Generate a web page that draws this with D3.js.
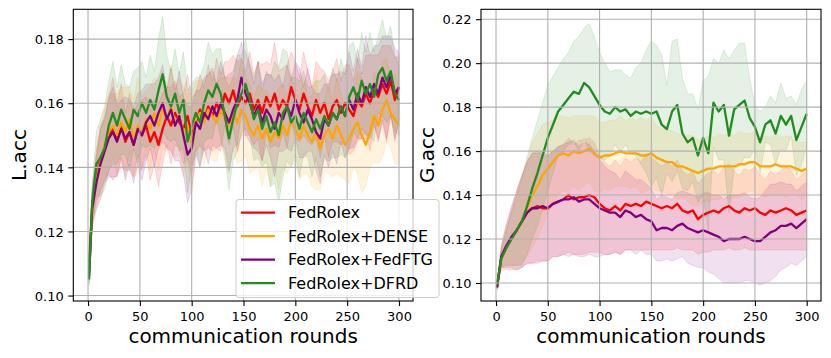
<!DOCTYPE html>
<html><head><meta charset="utf-8">
<script src="https://cdn.jsdelivr.net/npm/d3@7"></script>
<style>body{margin:0;background:#fff}svg{display:block;font-family:"DejaVu Sans",sans-serif}</style>
</head><body><svg id="c" width="831" height="358"></svg>
<script>
const seriesNames = ["FedRolex","FedRolex+DENSE","FedRolex+FedFTG","FedRolex+DFRD"];
const seriesColors = ["#ff0000","#ffa500","#800080","#228b22"];
const xTicks = [0,50,100,150,200,250,300];
const yTicksL = [0.10,0.12,0.14,0.16,0.18];
const yTicksG = [0.10,0.12,0.14,0.16,0.18,0.20,0.22];
const roundsL = [1].concat(d3.range(4, 301, 4));
const roundsG = [1].concat(d3.range(5, 301, 5));

// L.acc means
const lRed = [.110,.128,.137,.143,.146,.150,.152,.149,.153,.148,
.151,.147,.152,.150,.153,.148,.151,.147,.152,.156,
.153,.157,.154,.152,.156,.150,.154,.158,.155,.159,
.156,.160,.157,.163,.160,.164,.159,.162,.160,.163,
.158,.161,.157,.162,.159,.163,.158,.161,.159,.165,
.161,.158,.163,.159,.156,.161,.157,.160,.155,.159,
.161,.157,.160,.158,.156,.161,.159,.163,.160,.164,
.162,.166,.163,.167,.161,.165];
const lOrange = [.108,.126,.136,.142,.147,.151,.153,.150,.154,.151,
.155,.149,.153,.151,.155,.152,.157,.153,.158,.155,
.159,.154,.156,.151,.153,.147,.155,.157,.154,.158,
.156,.154,.158,.155,.153,.157,.154,.158,.156,.152,
.150,.153,.149,.152,.148,.151,.149,.153,.150,.155,
.152,.149,.153,.150,.148,.151,.146,.150,.152,.149,
.153,.150,.147,.149,.152,.154,.150,.147,.151,.156,
.153,.158,.161,.157,.155,.153];
const lPurple = [.106,.127,.135,.141,.145,.149,.151,.148,.152,.149,
.151,.147,.152,.150,.154,.156,.153,.157,.160,.155,
.158,.153,.156,.150,.144,.146,.154,.152,.157,.155,
.159,.156,.160,.157,.154,.158,.161,.168,.163,.160,
.156,.159,.154,.158,.156,.152,.157,.155,.159,.156,
.161,.157,.154,.158,.155,.151,.149,.155,.153,.157,
.155,.159,.156,.161,.158,.163,.160,.165,.162,.166,
.163,.168,.165,.169,.163,.165];
const lGreen = [.105,.129,.141,.143,.146,.153,.157,.153,.158,.155,
.152,.158,.156,.160,.157,.161,.158,.164,.169,.162,
.159,.163,.157,.161,.148,.153,.157,.154,.160,.164,
.162,.166,.163,.156,.149,.155,.160,.163,.166,.161,
.155,.158,.152,.156,.151,.154,.150,.157,.159,.154,
.156,.152,.157,.154,.151,.155,.152,.156,.153,.157,
.155,.159,.156,.162,.165,.161,.167,.163,.166,.162,
.169,.171,.167,.170,.163,.161];
// L.acc std
const lRedSd = [.002,.006,.008,.010,.010,.012,.016,.011,.013,.009,
.012,.010,.008,.011,.009,.012,.010,.013,.011,.009,
.012,.010,.008,.011,.013,.012,.009,.011,.010,.013,
.011,.014,.012,.010,.013,.011,.014,.012,.010,.013,
.011,.012,.015,.011,.013,.016,.012,.010,.013,.011,
.012,.010,.013,.011,.009,.012,.014,.010,.012,.011,
.013,.010,.012,.014,.011,.013,.010,.012,.015,.011,
.013,.012,.015,.011,.013,.010];
const lOrangeSd = [.002,.006,.009,.010,.011,.012,.010,.013,.011,.014,
.010,.012,.015,.011,.009,.013,.011,.014,.012,.010,
.013,.011,.012,.014,.010,.016,.012,.010,.013,.011,
.014,.012,.010,.013,.015,.011,.013,.016,.012,.014,
.011,.013,.015,.012,.014,.011,.016,.013,.012,.014,
.011,.013,.015,.012,.014,.018,.013,.011,.014,.012,
.015,.013,.011,.014,.012,.016,.018,.013,.011,.014,
.012,.015,.013,.011,.014,.012];
const lPurpleSd = [.002,.005,.008,.011,.010,.012,.014,.011,.009,.013,
.010,.012,.011,.014,.012,.010,.013,.011,.012,.009,
.013,.011,.014,.012,.015,.013,.010,.012,.011,.014,
.012,.010,.013,.011,.015,.012,.014,.011,.013,.012,
.010,.014,.012,.011,.013,.015,.012,.010,.013,.011,
.012,.014,.011,.013,.010,.012,.014,.011,.013,.012,
.014,.011,.013,.015,.012,.014,.011,.016,.013,.012,
.015,.013,.016,.012,.014,.011];
const lGreenSd = [.002,.006,.010,.012,.013,.014,.016,.012,.014,.011,
.013,.012,.015,.013,.011,.014,.012,.016,.018,.013,
.011,.014,.012,.015,.016,.013,.011,.014,.012,.015,
.013,.011,.014,.012,.016,.013,.015,.012,.014,.011,
.013,.015,.012,.014,.017,.019,.021,.020,.017,.014,
.012,.015,.013,.011,.014,.012,.015,.013,.011,.014,
.012,.015,.013,.016,.014,.012,.015,.013,.016,.014,
.012,.015,.013,.014,.012,.011];

// G.acc means
const gRed = [.098,.111,.116,.120,.124,.128,.132,.134,.135,.134,
.134,.136,.137,.138,.140,.138,.139,.139,.140,.139,
.136,.134,.133,.135,.133,.136,.135,.136,.135,.137,
.136,.135,.134,.135,.134,.136,.133,.132,.133,.129,
.131,.132,.133,.132,.134,.135,.133,.132,.134,.133,
.134,.132,.131,.133,.132,.133,.134,.133,.131,.132,.133];
const gOrange = [.099,.111,.116,.120,.124,.128,.134,.140,.144,.149,
.152,.155,.158,.159,.158,.160,.159,.160,.161,.159,
.157,.158,.158,.159,.160,.159,.159,.159,.158,.158,
.159,.157,.156,.155,.155,.153,.153,.152,.151,.150,
.151,.152,.152,.153,.153,.153,.153,.154,.154,.155,
.155,.153,.153,.153,.154,.153,.153,.153,.152,.151,.152];
const gPurple = [.098,.112,.117,.121,.124,.128,.132,.134,.134,.135,
.134,.136,.137,.138,.138,.139,.137,.138,.138,.136,
.134,.133,.132,.132,.130,.133,.132,.130,.131,.129,
.128,.124,.125,.125,.124,.126,.127,.125,.124,.123,
.124,.123,.122,.121,.119,.120,.120,.120,.121,.120,
.119,.119,.121,.123,.124,.126,.126,.127,.125,.127,.129];
const gGreen = [.099,.111,.116,.120,.124,.128,.135,.143,.150,.158,
.166,.172,.178,.181,.184,.187,.186,.191,.189,.185,
.181,.178,.177,.180,.178,.179,.176,.178,.177,.178,
.177,.178,.172,.170,.178,.181,.168,.164,.166,.158,
.166,.159,.182,.178,.181,.167,.179,.181,.183,.175,
.171,.164,.172,.174,.168,.176,.172,.176,.165,.171,.177];
// G.acc std
const gRedSd = [.001,.005,.010,.014,.018,.021,.023,.025,.025,.024,
.024,.024,.025,.025,.026,.025,.026,.026,.026,.025,
.022,.021,.020,.021,.020,.021,.020,.021,.020,.022,
.021,.020,.019,.020,.019,.020,.018,.017,.018,.016,
.017,.018,.018,.017,.019,.019,.018,.017,.018,.018,
.019,.017,.016,.018,.017,.018,.019,.018,.016,.017,.018];
const gOrangeSd = [.001,.004,.008,.012,.016,.019,.022,.024,.024,.023,
.021,.019,.018,.017,.017,.016,.017,.016,.015,.017,
.016,.015,.016,.015,.016,.015,.016,.015,.017,.016,
.016,.015,.014,.015,.014,.015,.014,.015,.016,.015,
.014,.015,.014,.015,.014,.015,.014,.015,.014,.013,
.014,.013,.014,.013,.014,.013,.014,.013,.012,.013,.012];
const gPurpleSd = [.001,.005,.010,.014,.018,.021,.023,.025,.025,.025,
.024,.024,.025,.025,.026,.026,.025,.026,.025,.024,
.022,.020,.019,.018,.017,.018,.017,.017,.016,.016,
.015,.014,.015,.014,.014,.015,.015,.016,.016,.016,
.017,.018,.018,.019,.019,.020,.020,.020,.020,.019,
.019,.020,.021,.022,.021,.020,.019,.018,.017,.017,.017];
const gGreenSd = [.001,.004,.008,.012,.016,.020,.022,.023,.024,.024,
.024,.022,.020,.021,.021,.023,.026,.025,.029,.027,
.024,.022,.019,.017,.019,.016,.017,.020,.023,.028,
.033,.030,.032,.020,.032,.030,.025,.022,.020,.021,
.026,.035,.020,.022,.025,.035,.027,.028,.026,.018,
.010,.014,.008,.011,.014,.015,.012,.009,.016,.017,.015];

const svg = d3.select("#c");

function panel(cfg) {
  const x = d3.scaleLinear().domain(cfg.xDom).range([cfg.x0, cfg.x1]);
  const y = d3.scaleLinear().domain(cfg.yDom).range([cfg.y1, cfg.y0]);
  const g = svg.append("g");
  const cid = "clip" + cfg.id;
  svg.append("clipPath").attr("id", cid).append("rect")
    .attr("x", cfg.x0).attr("y", cfg.y0).attr("width", cfg.x1 - cfg.x0).attr("height", cfg.y1 - cfg.y0);
  const plot = g.append("g").attr("clip-path", `url(#${cid})`);
  // bands
  cfg.means.forEach((m, k) => {
    const sd = cfg.sds[k];
    const area = d3.area()
      .x((d, i) => x(cfg.xs[i]))
      .y0((d, i) => y(m[i] - sd[i]))
      .y1((d, i) => y(m[i] + sd[i]));
    plot.append("path").datum(m).attr("d", area)
      .attr("fill", seriesColors[k]).attr("fill-opacity", cfg.bandOp)
      .attr("stroke", seriesColors[k]).attr("stroke-opacity", cfg.bandOp).attr("stroke-width", 1);
  });
  // grid
  const grid = g.append("g").attr("stroke", "#b0b0b0").attr("stroke-width", 1.1);
  xTicks.forEach(t => grid.append("line").attr("x1", x(t)).attr("x2", x(t)).attr("y1", cfg.y0).attr("y2", cfg.y1));
  cfg.yTicks.forEach(t => grid.append("line").attr("x1", cfg.x0).attr("x2", cfg.x1).attr("y1", y(t)).attr("y2", y(t)));
  // lines
  cfg.means.forEach((m, k) => {
    const line = d3.line().x((d, i) => x(cfg.xs[i])).y(d => y(d));
    plot.append("path").datum(m).attr("d", line).attr("fill", "none")
      .attr("stroke", seriesColors[k]).attr("stroke-width", 2.3).attr("stroke-linejoin", "round");
  });
  // frame
  g.append("rect").attr("x", cfg.x0).attr("y", cfg.y0).attr("width", cfg.x1 - cfg.x0).attr("height", cfg.y1 - cfg.y0)
    .attr("fill", "none").attr("stroke", "#000").attr("stroke-width", 1.1);
  // axes
  const ax = g.append("g").attr("transform", `translate(0,${cfg.y1})`)
    .call(d3.axisBottom(x).tickValues(xTicks).tickSize(5).tickPadding(6));
  const ay = g.append("g").attr("transform", `translate(${cfg.x0},0)`)
    .call(d3.axisLeft(y).tickValues(cfg.yTicks).tickSize(5).tickPadding(4.5).tickFormat(d3.format(".2f")));
  [ax, ay].forEach(a => {
    a.select(".domain").remove();
    a.selectAll("line").attr("stroke", "#000").attr("stroke-width", 1.1);
    a.selectAll("text").attr("font-size", 13).attr("fill", "#000").attr("font-family", "DejaVu Sans");
  });
  ay.selectAll("text").attr("dy", "0.36em");
  g.append("text").attr("x", (cfg.x0 + cfg.x1) / 2).attr("y", 343).attr("text-anchor", "middle")
    .attr("font-size", 20).text("communication rounds");
  g.append("text").attr("transform", `translate(${cfg.labelX},155) rotate(-90)`).attr("text-anchor", "middle")
    .attr("font-size", 20).text(cfg.label);
}

panel({id: "L", x0: 73.3, x1: 413, y0: 9.3, y1: 301, xDom: [-14.2, 313.5], yDom: [0.0983, 0.1893],
  xs: roundsL, means: [lRed, lOrange, lPurple, lGreen], sds: [lRedSd, lOrangeSd, lPurpleSd, lGreenSd],
  yTicks: yTicksL, label: "L.acc", labelX: 26, bandOp: 0.13});
panel({id: "G", x0: 481, x1: 821, y0: 9.3, y1: 301, xDom: [-14.5, 313.8], yDom: [0.0918, 0.2245],
  xs: roundsG, means: [gRed, gOrange, gPurple, gGreen], sds: [gRedSd, gOrangeSd, gPurpleSd, gGreenSd],
  yTicks: yTicksG, label: "G.acc", labelX: 434, bandOp: 0.12});

// legend
const leg = svg.append("g");
leg.append("rect").attr("x", 236).attr("y", 199.5).attr("width", 203).attr("height", 98).attr("rx", 3)
  .attr("fill", "#fff").attr("fill-opacity", 0.8).attr("stroke", "#cccccc").attr("stroke-width", 1);
seriesNames.forEach((n, k) => {
  const yy = 212.7 + k * 23.5;
  leg.append("line").attr("x1", 241).attr("x2", 275).attr("y1", yy).attr("y2", yy)
    .attr("stroke", seriesColors[k]).attr("stroke-width", 2.3);
  leg.append("text").attr("x", 288).attr("y", yy).attr("dy", "0.36em").attr("font-size", 16).text(n);
});
</script>
</body></html>
